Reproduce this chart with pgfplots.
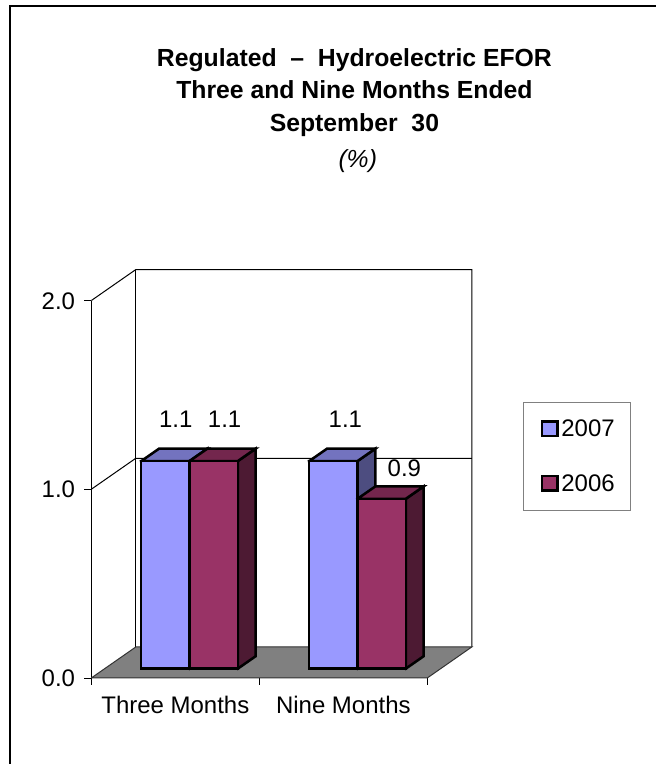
\documentclass[border=0pt]{standalone}
\usepackage{pgfplots}
\pgfplotsset{compat=1.18}
\usepackage{fontspec}
\setmainfont{Liberation Sans}
\definecolor{blueF}{HTML}{9999FF}
\definecolor{blueT}{HTML}{7373BF}
\definecolor{blueS}{HTML}{4D4D80}
\definecolor{plumF}{HTML}{993366}
\definecolor{plumT}{HTML}{73264D}
\definecolor{plumS}{HTML}{4D1A33}
\newcommand{\lf}{\fontsize{18}{21}\selectfont}
\newcommand{\threedbar}[6]{%
  \addplot3[draw=black,line width=1.9pt,line join=miter,line cap=rect,fill=#6,mark=none] coordinates {(#2,0.3,0) (#2,0.7,0) (#2,0.7,#3) (#2,0.3,#3) (#2,0.3,0)};
  \addplot3[draw=black,line width=1.9pt,line join=miter,line cap=rect,fill=#5,mark=none] coordinates {(#1,0.3,#3) (#2,0.3,#3) (#2,0.7,#3) (#1,0.7,#3) (#1,0.3,#3)};
  \addplot3[draw=black,line width=1.9pt,line join=miter,line cap=rect,fill=#4,mark=none] coordinates {(#1,0.3,0) (#2,0.3,0) (#2,0.3,#3) (#1,0.3,#3) (#1,0.3,0)};
}
\begin{document}
\begin{tikzpicture}[x=0.75pt,y=0.75pt]
\path (0,0) rectangle (657,765);
\draw[line width=1.8pt,black] (10,0) -- (10,759) -- (657,759);
\coordinate (o) at (91.5,86);
% front plane: ticks, tick labels, legend
\begin{axis}[
  at={(o)},anchor=south west,
  scale only axis,width=252.375pt,height=283.5pt,
  xmin=0,xmax=2,ymin=0,ymax=2,
  axis x line*=bottom,axis y line*=left,
  axis line style={line width=0.75pt,-},
  xtick={0.5,1.5},xticklabels={Three Months,Nine Months},
  minor xtick={0,1,2},ytick={0,1,2},
  tick align=outside,
  major tick length=5.25pt,minor tick length=5.25pt,
  major x tick style={draw=none},
  minor tick style={black,line width=0.5pt},
  y tick style={black,line width=0.5pt},
  tick label style={font=\lf},
  xticklabel style={yshift=-4.75pt},
  yticklabel style={xshift=-3.5pt,yshift=-0.25pt},
  /pgf/number format/assume math mode=true,
  yticklabel={\pgfmathprintnumber[fixed,fixed zerofill,precision=1]{\tick}},
  title={\textbf{Regulated\ \ –\ \ Hydroelectric EFOR}\\\textbf{Three and Nine Months Ended}\\\textbf{September\ \ 30}\\[3pt]\hspace*{5pt}\textit{(\%)}},
  title style={at={(rel axis cs:0.783,1.6476)},anchor=north,align=center,font=\fontsize{18.6}{24.4}\selectfont,inner sep=0pt},
  legend style={at={(rel axis cs:1.2835,0.7315)},anchor=north west,draw=gray,line width=0.75pt,
    font=\lf,inner xsep=13.5pt,inner ysep=11pt,row sep=23pt,
    /tikz/every even column/.append style={column sep=5.5pt}},
  legend cell align=left,
  legend image code/.code={\draw[#1,line width=1.8pt] (0pt,-5.25pt) rectangle (11.5pt,5.75pt);},
]
\addlegendimage{fill=blueF,draw=black}
\addlegendentry{2007\hspace*{-3.75pt}}
\addlegendimage{fill=plumF,draw=black}
\addlegendentry{2006\hspace*{-3.75pt}}
\end{axis}
% depth view: walls, floor and the bars
\begin{axis}[
  at={(o)},anchor=origin,
  x={(126.1875pt,0pt)},y={(33.375pt,23.25pt)},z={(0pt,141.75pt)},
  xmin=0,xmax=2,ymin=0,ymax=1,zmin=0,zmax=2,
  hide axis,clip=false,
]
\addplot3[black,line width=0.75pt,mark=none] coordinates {(0,0,2) (0,1,2) (2,1,2) (2,1,0)};
\addplot3[black,line width=0.75pt,mark=none] coordinates {(0,1,2) (0,1,0)};
\addplot3[black,line width=0.75pt,mark=none] coordinates {(0,0,1) (0,1,1) (2,1,1)};
\addplot3[fill={rgb,255:red,128;green,128;blue,128},draw=black!60!gray,line width=0.75pt,mark=none] coordinates {(0,0,0) (2,0,0) (2,1,0) (0,1,0) (0,0,0)};
\threedbar{0.2175}{0.505}{1.1}{blueF}{blueT}{blueS}
\threedbar{0.505}{0.7925}{1.1}{plumF}{plumT}{plumS}
\threedbar{1.2175}{1.505}{1.1}{blueF}{blueT}{blueS}
\threedbar{1.505}{1.7925}{0.9}{plumF}{plumT}{plumS}
\node[font=\lf] at (axis cs:0.37,0.5,1.289) {1.1};
\node[font=\lf] at (axis cs:0.661,0.5,1.289) {1.1};
\node[font=\lf] at (axis cs:1.38,0.5,1.289) {1.1};
\node[font=\lf] at (axis cs:1.731,0.5,1.03) {0.9};
\end{axis}
\end{tikzpicture}
\end{document}
